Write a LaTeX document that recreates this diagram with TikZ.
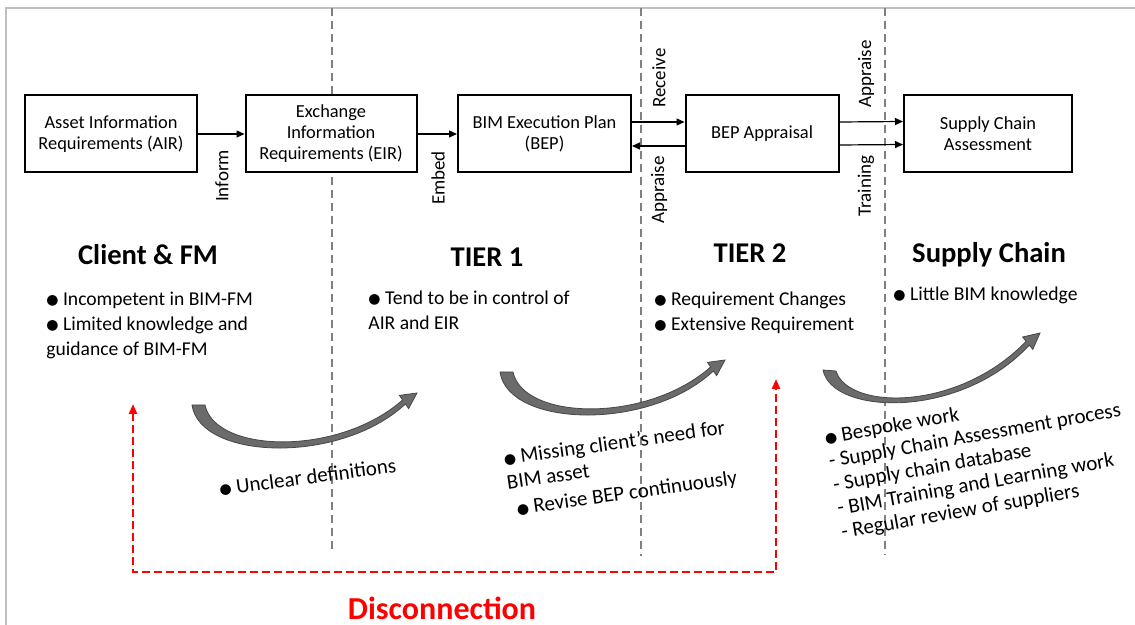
\documentclass[tikz,border=0pt]{standalone}
\usepackage{fontspec}
\setmainfont{Carlito}
\newfontfamily\dejavu{DejaVu Sans}
\usepackage{tikz}
\usetikzlibrary{arrows.meta}
\newcommand{\bul}{\raisebox{0.4pt}{\dejavu\fontsize{7}{7}\selectfont ●}}
\tikzset{
  box/.style={rectangle, draw=black, line width=1pt, fill=white,
              align=center, minimum height=38.5pt, inner sep=2pt,
              font=\fontsize{9.2}{10.5}\selectfont},
  lbl/.style={rotate=90, inner sep=1pt, font=\fontsize{9.5}{11}\selectfont},
  flow/.style={-{Triangle[length=4pt,width=3.5pt]}, line width=0.6pt},
  head/.style={anchor=base, font=\bfseries\fontsize{14.3}{16}\selectfont},
  txt/.style={anchor=west, align=left, inner sep=0pt,
              font=\fontsize{9.8}{12.5}\selectfont},
  note/.style={anchor=west, align=left, inner sep=0pt,
               font=\fontsize{10.5}{12}\selectfont},
  divider/.style={draw=black!50, line width=0.7pt, dash pattern=on 4pt off 2.5pt},
  disc/.style={draw=red, line width=1.4pt, dash pattern=on 4pt off 2pt,
               {Triangle[length=5pt,width=4pt]}-{Triangle[length=5pt,width=4pt]}},
  swoop/.style={fill=black!58, draw=black!72, line width=0.4pt},
}

\begin{document}
\begin{tikzpicture}[x=0.5pt, y=-0.5pt]
  \useasboundingbox (0,0) rectangle (1135,625);
  % frame
  \draw[black!25, line width=1pt] (6,625) -- (6,8) -- (1135,8);
  % tier dividers
  \foreach \x/\y in {332/550, 641/556, 885/555}
    \draw[divider] (\x,8) -- (\x,\y);

  % boxes
  \node[box, minimum width=86pt] (air) at (111,134) {Asset Information\\Requirements (AIR)};
  \node[box, minimum width=85.5pt] (eir) at (331,134) {Exchange\\Information\\Requirements (EIR)};
  \node[box, minimum width=86.5pt] (bep) at (544.5,134) {BIM Execution Plan\\(BEP)};
  \node[box, minimum width=76.5pt] (bepa) at (762,134) {BEP Appraisal};
  \node[box, minimum width=84pt] (sca) at (988,133.5) {Supply Chain\\Assessment};

  % links
  \draw[flow] (air) -- (eir);
  \draw[flow] (eir) -- (bep);
  \draw[flow] ([yshift=6pt]bep.east) -- ([yshift=6pt]bepa.west);
  \draw[flow] ([yshift=-6pt]bepa.west) -- ([yshift=-6pt]bep.east);
  \draw[flow] ([yshift=6pt]bepa.east) -- ([yshift=6pt]sca.west);
  \draw[flow] ([yshift=-5.5pt]bepa.east) -- ([yshift=-5.5pt]sca.west);

  % link labels
  \node[lbl] (inform) at (222,176) {Inform};
  \node[lbl] (embed) at (438,178) {Embed};
  \node[lbl] (receive) at (659,78) {Receive};
  \node[lbl] (apprlow) at (659,190) {Appraise};
  \node[lbl] (apprup) at (866,74) {Appraise};
  \node[lbl] (training) at (866,186) {Training};

  % tier headings
  \node[head] (client) at (148,265) {Client \& FM};
  \node[head] (tier1) at (487,267) {TIER 1};
  \node[head] (tier2) at (750,263) {TIER 2};
  \node[head] (supply) at (989,263) {Supply Chain};

  % tier notes
  \node[txt] (clientnote) at (46,325)
        {\bul\ Incompetent in BIM-FM\\\bul\ Limited knowledge and\\guidance of BIM-FM};
  \node[txt] (tier1note) at (368,310.5)
        {\bul\ Tend to be in control of\\AIR and EIR};
  \node[txt] (tier2note) at (654,312.5)
        {\bul\ Requirement Changes\\\bul\ Extensive Requirement};
  \node[txt] (supplynote) at (893,295) {\bul\ Little BIM knowledge};

  % curved hand-over arrows
  \fill[swoop] (192,405) .. controls (200,460) and (340,465) .. (405.4,404)
        -- (408.6,408.6) -- (417,393) -- (399.4,395.4) -- (402.6,400)
        .. controls (338,457) and (215,453) .. (205,405) -- cycle;
  \fill[swoop] (500,372) .. controls (508,427) and (648,432) .. (713.4,371)
        -- (716.6,375.6) -- (725,360) -- (707.4,362.4) -- (710.6,367)
        .. controls (646,424) and (523,420) .. (513,372) -- cycle;
  \fill[swoop] (823,370) .. controls (832,415) and (960,420) .. (1029.3,345.1)
        -- (1032.8,349.4) -- (1040,333) -- (1022.6,337) -- (1026.1,341.3)
        .. controls (958,412) and (848,410) .. (836,371) -- cycle;

  % issues under the arrows
  \node[note, rotate=7.5] (unclear) at (219,489) {\bul\ Unclear definitions};
  \node[note, rotate=8] (missing) at (507,485)
        {\bul\ Missing client’s need for\\BIM asset\\[1.5pt]\hspace{3pt}\bul\ Revise BEP continuously};
  \node[note, rotate=10] (bespoke) at (833,486)
        {\bul\ Bespoke work\\- Supply Chain Assessment process\\- Supply chain database\\%
         - BIM Training and Learning work\\- Regular review of suppliers};

  % disconnection
  \coordinate (discl) at (133,404);
  \coordinate (discr) at (776,379);
  \coordinate (discb) at (133,572);
  \draw[disc] (discl) -- (discb) -- (discb -| discr) -- (discr);
  \node[font=\bfseries\fontsize{16}{18}\selectfont, text=red] (disconn) at (442,608) {Disconnection};
\end{tikzpicture}
\end{document}
